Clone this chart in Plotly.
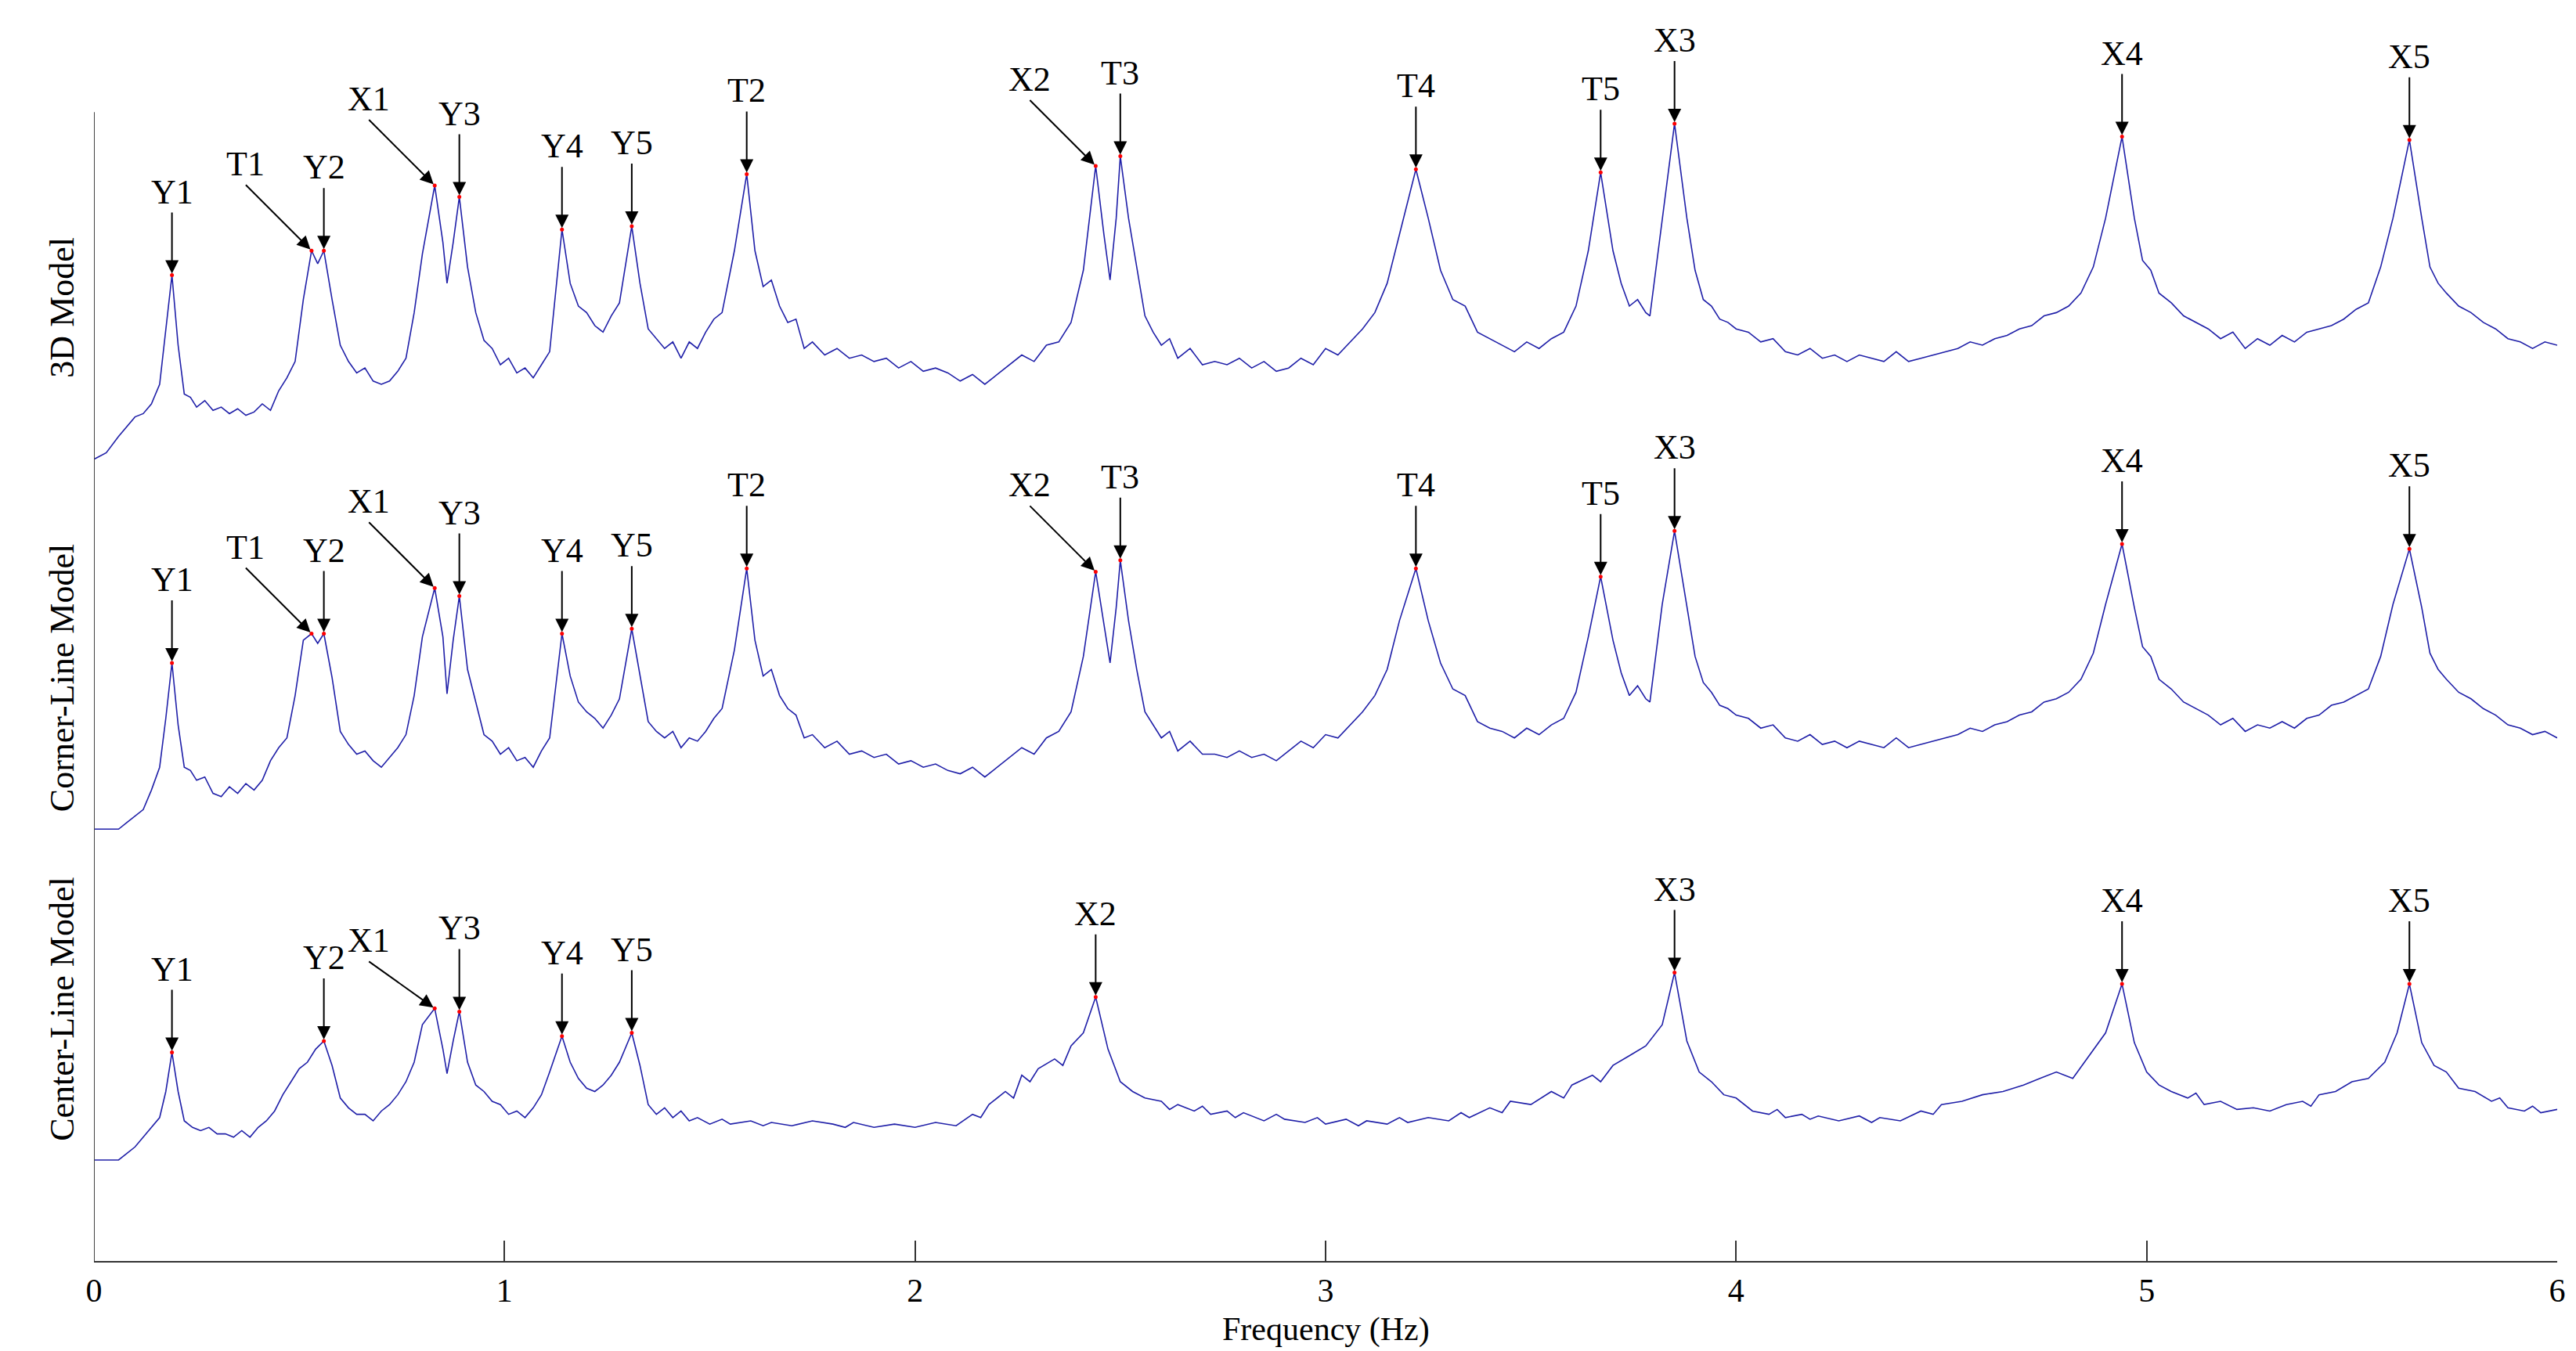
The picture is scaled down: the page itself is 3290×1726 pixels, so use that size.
import plotly.graph_objects as go

# ---------------- data (frequency in Hz, amplitude in arbitrary units) ----------------
freq_3d = [0.00,0.03,0.06,0.08,0.10,0.12,0.14,0.16,0.175,0.19,0.205,0.22,0.235,0.25,0.27,0.29,0.31,0.33,0.35,0.37,0.39,0.41,0.43,0.45,0.47,0.49,0.51,0.53,0.545,0.56,0.58,0.60,0.62,0.64,0.66,0.68,0.70,0.72,0.74,0.76,0.78,0.80,0.83,0.85,0.86,0.875,0.89,0.91,0.93,0.95,0.97,0.99,1.01,1.03,1.05,1.07,1.09,1.11,1.14,1.16,1.18,1.20,1.22,1.24,1.26,1.28,1.31,1.33,1.35,1.37,1.39,1.41,1.43,1.45,1.47,1.49,1.51,1.53,1.56,1.59,1.61,1.63,1.65,1.67,1.69,1.71,1.73,1.75,1.78,1.81,1.84,1.87,1.90,1.93,1.96,1.99,2.02,2.05,2.08,2.11,2.14,2.17,2.20,2.23,2.26,2.29,2.32,2.35,2.38,2.41,2.44,2.46,2.475,2.49,2.50,2.52,2.54,2.56,2.58,2.60,2.62,2.64,2.67,2.70,2.73,2.76,2.79,2.82,2.85,2.88,2.91,2.94,2.97,3.00,3.03,3.06,3.09,3.12,3.15,3.18,3.22,3.25,3.28,3.31,3.34,3.37,3.40,3.43,3.46,3.49,3.52,3.55,3.58,3.61,3.64,3.67,3.70,3.72,3.74,3.76,3.78,3.79,3.82,3.85,3.88,3.90,3.92,3.94,3.96,3.98,4.00,4.03,4.06,4.09,4.12,4.15,4.18,4.21,4.24,4.27,4.30,4.33,4.36,4.39,4.42,4.45,4.48,4.51,4.54,4.57,4.60,4.63,4.66,4.69,4.72,4.75,4.78,4.81,4.84,4.87,4.90,4.94,4.97,4.99,5.01,5.03,5.06,5.09,5.12,5.15,5.18,5.21,5.24,5.27,5.30,5.33,5.36,5.39,5.42,5.45,5.48,5.51,5.54,5.57,5.60,5.64,5.67,5.69,5.71,5.73,5.76,5.79,5.82,5.85,5.88,5.91,5.94,5.97,6.00]
amp_3d = [2,6,16,22,28,30,36,48,80,115,
          72,42,40,34,38,32,34,30,33,29,31,36,32,44,52,62,100,130,
          122,130,100,72,62,55,58,50,48,50,56,64,92,128,
          170,135,110,135,163,
          120,92,75,70,60,64,55,58,52,60,68,
          143,
          110,96,92,84,80,90,98,
          145,
          110,82,76,70,74,64,74,70,80,88,92,130,
          177,
          130,108,112,96,86,88,70,74,66,70,64,66,62,64,58,62,56,58,55,50,54,48,54,60,66,62,72,74,86,118,
          182,
          140,112,150,188,
          150,120,90,80,72,76,64,
          70,60,62,60,64,58,62,56,58,64,60,70,66,74,82,92,110,140,
          180,
          150,118,100,96,80,76,72,68,74,70,76,80,96,130,
          178,
          130,110,96,100,92,90,150,
          208,
          150,118,100,96,88,86,82,
          80,74,76,68,66,70,64,66,62,66,64,62,68,62,64,66,68,70,74,72,76,78,82,84,90,92,96,104,120,150,
          200,
          150,124,118,104,
          98,90,86,82,76,80,70,76,72,78,74,80,82,84,88,94,98,120,150,
          198,
          150,120,110,104,
          96,92,86,82,76,74,70,74,72]

freq_cl = [0.00,0.02,0.04,0.06,0.08,0.10,0.12,0.14,0.16,0.175,0.19,0.205,0.22,0.235,0.25,0.27,0.29,0.31,0.33,0.35,0.37,0.39,0.41,0.43,0.45,0.47,0.49,0.51,0.53,0.545,0.56,0.58,0.60,0.62,0.64,0.66,0.68,0.70,0.72,0.74,0.76,0.78,0.80,0.83,0.85,0.86,0.875,0.89,0.91,0.93,0.95,0.97,0.99,1.01,1.03,1.05,1.07,1.09,1.11,1.14,1.16,1.18,1.20,1.22,1.24,1.26,1.28,1.31,1.33,1.35,1.37,1.39,1.41,1.43,1.45,1.47,1.49,1.51,1.53,1.56,1.59,1.61,1.63,1.65,1.67,1.69,1.71,1.73,1.75,1.78,1.81,1.84,1.87,1.90,1.93,1.96,1.99,2.02,2.05,2.08,2.11,2.14,2.17,2.20,2.23,2.26,2.29,2.32,2.35,2.38,2.41,2.44,2.46,2.475,2.49,2.50,2.52,2.54,2.56,2.58,2.60,2.62,2.64,2.67,2.70,2.73,2.76,2.79,2.82,2.85,2.88,2.91,2.94,2.97,3.00,3.03,3.06,3.09,3.12,3.15,3.18,3.22,3.25,3.28,3.31,3.34,3.37,3.40,3.43,3.46,3.49,3.52,3.55,3.58,3.61,3.64,3.67,3.70,3.72,3.74,3.76,3.78,3.79,3.82,3.85,3.88,3.90,3.92,3.94,3.96,3.98,4.00,4.03,4.06,4.09,4.12,4.15,4.18,4.21,4.24,4.27,4.30,4.33,4.36,4.39,4.42,4.45,4.48,4.51,4.54,4.57,4.60,4.63,4.66,4.69,4.72,4.75,4.78,4.81,4.84,4.87,4.90,4.94,4.97,4.99,5.01,5.03,5.06,5.09,5.12,5.15,5.18,5.21,5.24,5.27,5.30,5.33,5.36,5.39,5.42,5.45,5.48,5.51,5.54,5.57,5.60,5.64,5.67,5.69,5.71,5.73,5.76,5.79,5.82,5.85,5.88,5.91,5.94,5.97,6.00]
amp_cl = [2,2,2,2,6,10,14,26,40,70,104,
          66,40,38,32,34,24,22,28,24,30,26,32,44,52,58,84,118,122,
          116,122,95,62,54,48,50,44,40,46,52,60,84,120,
          150,120,85,118,145,
          100,80,60,56,48,52,44,46,40,50,58,
          122,
          96,80,74,70,64,72,82,
          125,
          96,68,62,58,62,52,58,56,62,70,76,112,
          162,
          118,96,100,84,76,72,58,60,52,56,48,50,46,48,42,44,40,42,38,36,40,34,40,46,52,48,58,62,74,108,
          160,
          128,104,138,167,
          130,100,74,66,58,62,50,
          56,48,48,46,50,46,48,44,50,56,52,60,58,66,74,84,100,130,
          162,
          130,104,88,84,68,64,62,58,64,60,66,70,86,120,
          157,
          118,98,84,90,82,80,140,
          185,
          140,108,92,86,78,76,72,
          70,64,66,58,56,60,54,56,52,56,54,52,58,52,54,56,58,60,64,62,66,68,72,74,80,82,86,94,110,140,
          177,
          138,114,108,94,
          88,80,76,72,66,70,62,66,64,68,64,70,72,78,80,84,88,108,140,
          174,
          138,110,100,94,
          86,82,76,72,66,64,60,62,58]

center_points = [(0.00,2),(0.02,2),(0.04,2),(0.06,2),(0.08,6),(0.10,10),(0.12,16),(0.14,22),(0.16,28),(0.175,44),(0.19,68),(0.205,44),(0.22,26),
    (0.24,22),(0.26,20),(0.28,22),(0.30,18),(0.32,18),(0.34,16),(0.36,20),(0.38,16),(0.40,22),(0.42,26),(0.44,32),(0.46,42),(0.48,50),(0.50,58),
    (0.52,62),(0.54,70),(0.56,75),(0.58,60),(0.60,40),(0.62,34),(0.64,30),(0.66,30),(0.68,26),(0.70,32),(0.72,36),(0.74,42),(0.76,50),(0.78,62),(0.80,85),
    (0.83,95),(0.85,70),(0.86,55),(0.875,75),(0.89,93),
    (0.91,62),(0.93,48),(0.95,44),(0.97,38),(0.99,36),(1.01,30),(1.03,32),(1.05,28),(1.07,34),(1.09,42),(1.11,56),
    (1.14,78),(1.16,62),(1.18,52),(1.20,46),(1.22,44),(1.24,48),(1.26,54),(1.28,62),(1.31,80),
    (1.33,60),(1.35,36),(1.37,30),(1.39,34),(1.41,28),(1.43,32),(1.45,26),(1.47,28),
    (1.50,24),(1.53,27),(1.55,24),(1.60,26),(1.63,23),(1.65,25),(1.70,23),(1.75,26),(1.80,24),(1.83,22),(1.85,25),(1.90,22),(1.95,24),(2.00,22),(2.05,25),(2.10,23),
    (2.14,30),(2.16,28),(2.18,36),(2.22,44),(2.24,40),(2.26,54),(2.28,50),(2.30,58),(2.34,64),(2.36,60),(2.38,72),
    (2.41,80),(2.44,102),(2.47,70),(2.50,50),(2.53,44),(2.56,40),
    (2.60,38),(2.62,33),(2.64,36),(2.68,32),(2.70,35),(2.72,30),(2.76,32),(2.78,28),(2.80,31),
    (2.85,26),(2.88,30),(2.90,27),(2.95,25),(2.98,28),(3.00,24),(3.05,27),(3.08,23),(3.10,26),(3.15,24),(3.18,28),(3.20,25),(3.25,28),(3.30,26),(3.33,31),(3.35,28),(3.40,34),(3.43,31),(3.45,38),(3.50,36),(3.55,44),(3.58,40),(3.60,48),(3.65,54),(3.67,50),(3.70,60),
    (3.74,66),(3.78,72),(3.82,85),(3.85,117),(3.88,75),(3.91,56),(3.94,50),(3.97,42),(4.00,40),
    (4.04,32),(4.08,30),(4.10,33),(4.12,28),(4.16,30),(4.18,27),(4.20,29),
    (4.25,26),(4.30,29),(4.33,25),(4.35,28),(4.40,26),(4.45,32),(4.48,30),(4.50,36),(4.55,38),(4.60,42),(4.65,44),(4.70,48),
    (4.74,52),(4.78,56),(4.82,52),(4.86,66),(4.90,80),(4.94,110),(4.97,74),(5.00,56),(5.03,48),(5.06,44),
    (5.10,40),(5.12,43),(5.14,36),(5.18,38),(5.22,33),(5.26,34),(5.30,32),(5.34,36),(5.38,38),(5.40,35),(5.42,42),(5.46,44),(5.50,50),(5.54,52),(5.58,62),
    (5.61,80),(5.64,110),(5.67,74),(5.70,60),(5.73,56),(5.76,46),(5.80,44),(5.84,38),(5.86,40),(5.88,34),(5.92,32),(5.94,35),(5.96,31),(6.00,33)]
freq_cen = [p[0] for p in center_points]
amp_cen = [p[1] for p in center_points]

trace_names = ["3D Model", "Corner-Line Model", "Center-Line Model"]
peaks_3d = {"Y1":0.19,"T1":0.53,"Y2":0.56,"X1":0.83,"Y3":0.89,"Y4":1.14,"Y5":1.31,"T2":1.59,
            "X2":2.44,"T3":2.50,"T4":3.22,"T5":3.67,"X3":3.85,"X4":4.94,"X5":5.64}
peaks_cl = dict(peaks_3d)
peaks_cen = {"Y1":0.19,"Y2":0.56,"X1":0.83,"Y3":0.89,"Y4":1.14,"Y5":1.31,"X2":2.44,"X3":3.85,"X4":4.94,"X5":5.64}
diagonal = {"T1","X1","X2"}
x_ticks = [0,1,2,3,4,5,6]

# ---------------- figure ----------------
offsets = [490, 263, 60]
series = [(freq_3d, amp_3d, peaks_3d), (freq_cl, amp_cl, peaks_cl), (freq_cen, amp_cen, peaks_cen)]
FONT = "Liberation Serif"
fig = go.Figure()
annotations = []
for i, ((fx, fy, pk), off, name) in enumerate(zip(series, offsets, trace_names)):
    n = min(len(fx), len(fy))
    fx, fy = fx[:n], fy[:n]
    ys = [v + off for v in fy]
    fig.add_trace(go.Scatter(x=fx, y=ys, mode="lines", line=dict(color="#1f1fa8", width=1.6),
                             name=name, showlegend=False, hoverinfo="skip"))
    px, py = [], []
    for lab, f in pk.items():
        j = min(range(n), key=lambda k: abs(fx[k] - f))
        px.append(fx[j]); py.append(ys[j])
        if lab in diagonal and not (i == 2 and lab == "X2"):
            ax, ay = -84, (-60 if i == 2 else -84)
        else:
            ax, ay = 0, -80
        annotations.append(dict(x=fx[j], y=ys[j], text=lab, showarrow=True, arrowhead=2,
                                arrowsize=1.7, arrowwidth=2, arrowcolor="black", ax=ax, ay=ay,
                                font=dict(family=FONT, size=44, color="black"),
                                standoff=2, yanchor="bottom"))
    fig.add_trace(go.Scatter(x=px, y=py, mode="markers", marker=dict(color="red", size=5),
                             showlegend=False, hoverinfo="skip"))
    annotations.append(dict(xref="paper", x=0, yref="y", y=off + 95, text=name, showarrow=False,
                            textangle=-90, xanchor="right", xshift=-14,
                            font=dict(family=FONT, size=44, color="black")))

annotations.append(dict(xref="paper", yref="paper", x=0.5, y=0, yshift=-62, text="Frequency (Hz)",
                        showarrow=False, yanchor="top", font=dict(family=FONT, size=42, color="black")))

fig.add_shape(type="line", xref="x", yref="y", x0=0, x1=0, y0=0, y1=705,
              line=dict(color="#444", width=2))
fig.update_layout(
    width=3290, height=1726, paper_bgcolor="white", plot_bgcolor="white",
    margin=dict(l=112, r=32, t=0, b=123),
    annotations=annotations,
    xaxis=dict(range=[0, 6], tickvals=x_ticks, ticks="inside", ticklen=26, tickwidth=2,
               tickcolor="#333", showline=True, linecolor="#333", linewidth=2, showgrid=False,
               zeroline=False, tickfont=dict(family=FONT, size=42, color="black")),
    yaxis=dict(range=[0, 770], visible=False, showgrid=False, zeroline=False),
)
fig.write_html("out.html")
